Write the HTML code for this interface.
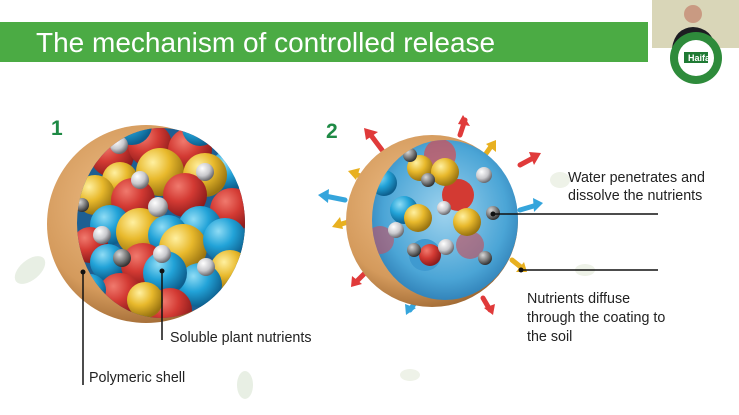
<!DOCTYPE html>
<html><head><meta charset="utf-8"><style>
body{margin:0;width:739px;height:415px;overflow:hidden;background:#fff;font-family:"Liberation Sans",sans-serif;}
svg{position:absolute;left:0;top:0}
</style></head><body>
<svg width="739" height="415" viewBox="0 0 739 415">
<defs>
<radialGradient id="r" cx="35%" cy="30%" r="70%"><stop offset="0" stop-color="#f07a6e"/><stop offset=".5" stop-color="#d33a33"/><stop offset="1" stop-color="#8e1c1c"/></radialGradient>
<radialGradient id="b" cx="35%" cy="30%" r="70%"><stop offset="0" stop-color="#8fdcf5"/><stop offset=".5" stop-color="#22a3d8"/><stop offset="1" stop-color="#0d5f8e"/></radialGradient>
<radialGradient id="y" cx="35%" cy="30%" r="70%"><stop offset="0" stop-color="#fff0a0"/><stop offset=".5" stop-color="#e8b92c"/><stop offset="1" stop-color="#9a7410"/></radialGradient>
<radialGradient id="w" cx="35%" cy="30%" r="70%"><stop offset="0" stop-color="#fff"/><stop offset=".6" stop-color="#c8c8cc"/><stop offset="1" stop-color="#6b6b70"/></radialGradient>
<radialGradient id="g" cx="35%" cy="30%" r="70%"><stop offset="0" stop-color="#d8d8d8"/><stop offset=".6" stop-color="#777"/><stop offset="1" stop-color="#333"/></radialGradient>
<radialGradient id="shell" cx="40%" cy="40%" r="65%"><stop offset="0" stop-color="#f0c089"/><stop offset=".7" stop-color="#d49a5c"/><stop offset="1" stop-color="#9b6530"/></radialGradient>
<radialGradient id="water" cx="50%" cy="45%" r="60%"><stop offset="0" stop-color="#9fd3ee"/><stop offset=".7" stop-color="#4ba5d6"/><stop offset="1" stop-color="#2a78b0"/></radialGradient>
<clipPath id="c1"><ellipse cx="161" cy="223" rx="84" ry="95"/></clipPath>
<clipPath id="c2"><ellipse cx="445" cy="220" rx="73" ry="80"/></clipPath>
</defs>
<!-- banner -->
<rect x="0" y="22" width="648" height="40" fill="#4bab44"/>
<text x="36" y="52" font-size="28" fill="#fff" font-family="Liberation Sans, sans-serif">The mechanism of controlled release</text>
<!-- webcam -->
<rect x="652" y="0" width="87" height="48" fill="#d9d6b8"/>
<circle cx="693" cy="14" r="9" fill="#c99a82"/>
<path d="M672 48 Q675 28 693 27 Q712 28 716 48Z" fill="#1d1d22"/>
<circle cx="696" cy="58" r="26" fill="#2e8b3b"/>
<circle cx="696" cy="58" r="18" fill="#fff"/>
<rect x="684" y="52" width="24" height="11" fill="#1f7a34"/>
<text x="688" y="61" font-size="9" fill="#fff" font-weight="bold">Haifa</text>
<!-- faint leaves -->
<ellipse cx="30" cy="270" rx="18" ry="10" fill="#e8efe4" transform="rotate(-40 30 270)"/>
<ellipse cx="245" cy="385" rx="8" ry="14" fill="#e8efe4"/>
<ellipse cx="410" cy="375" rx="10" ry="6" fill="#eef2e8"/>
<ellipse cx="585" cy="270" rx="10" ry="6" fill="#eef2e8"/>
<ellipse cx="560" cy="180" rx="10" ry="8" fill="#eef2e8"/>
<!-- sphere 1 -->
<circle cx="146" cy="224" r="99" fill="url(#shell)"/>
<ellipse cx="161" cy="223" rx="84" ry="95" fill="#1e5f92"/>
<g clip-path="url(#c1)">
<circle cx="112" cy="155" r="22" fill="url(#r)"/><circle cx="150" cy="145" r="22" fill="url(#r)"/><circle cx="190" cy="150" r="22" fill="url(#r)"/>
<circle cx="230" cy="170" r="20" fill="url(#b)"/><circle cx="132" cy="125" r="20" fill="url(#b)"/><circle cx="200" cy="128" r="18" fill="url(#b)"/>
<circle cx="160" cy="172" r="24" fill="url(#y)"/><circle cx="205" cy="175" r="22" fill="url(#y)"/><circle cx="120" cy="180" r="18" fill="url(#y)"/>
<circle cx="95" cy="195" r="20" fill="url(#y)"/><circle cx="185" cy="195" r="22" fill="url(#r)"/><circle cx="133" cy="200" r="22" fill="url(#r)"/>
<circle cx="232" cy="210" r="22" fill="url(#r)"/><circle cx="200" cy="228" r="22" fill="url(#b)"/><circle cx="110" cy="225" r="20" fill="url(#b)"/>
<circle cx="140" cy="232" r="24" fill="url(#y)"/><circle cx="90" cy="245" r="18" fill="url(#r)"/><circle cx="168" cy="235" r="20" fill="url(#b)"/>
<circle cx="183" cy="248" r="24" fill="url(#y)"/><circle cx="225" cy="240" r="22" fill="url(#b)"/><circle cx="230" cy="270" r="20" fill="url(#y)"/>
<circle cx="108" cy="262" r="18" fill="url(#b)"/><circle cx="143" cy="265" r="22" fill="url(#r)"/><circle cx="200" cy="285" r="22" fill="url(#b)"/>
<circle cx="165" cy="273" r="22" fill="url(#b)"/><circle cx="120" cy="295" r="22" fill="url(#r)"/><circle cx="170" cy="310" r="22" fill="url(#r)"/>
<circle cx="145" cy="300" r="18" fill="url(#y)"/><circle cx="90" cy="290" r="16" fill="url(#b)"/>
<circle cx="119" cy="145" r="9" fill="url(#w)"/><circle cx="140" cy="180" r="9" fill="url(#w)"/><circle cx="205" cy="172" r="9" fill="url(#w)"/>
<circle cx="158" cy="207" r="10" fill="url(#w)"/><circle cx="102" cy="235" r="9" fill="url(#w)"/><circle cx="122" cy="258" r="9" fill="url(#g)"/>
<circle cx="162" cy="254" r="9" fill="url(#w)"/><circle cx="206" cy="267" r="9" fill="url(#w)"/><circle cx="82" cy="205" r="7" fill="url(#g)"/>
</g>
<!-- sphere 2 arrows -->
<g stroke-width="5" fill="none" stroke-linecap="round">
<path d="M382 150 L370 134" stroke="#e03a3a"/><path d="M460 135 L465 120" stroke="#e03a3a"/><path d="M520 165 L535 157" stroke="#e03a3a"/>
<path d="M485 155 L492 145" stroke="#e8b020"/><path d="M370 180 L355 174" stroke="#e8b020"/><path d="M355 220 L338 225" stroke="#e8b020"/>
<path d="M345 200 L325 196" stroke="#35a5dc"/><path d="M520 210 L537 205" stroke="#35a5dc"/><path d="M512 260 L522 268" stroke="#e8b020"/>
<path d="M368 270 L356 282" stroke="#e03a3a"/><path d="M418 298 L410 310" stroke="#35a5dc"/><path d="M483 298 L490 310" stroke="#e03a3a"/>
</g>
<g>
<polygon points="364,128 378,132 366,140" fill="#e03a3a"/><polygon points="463,115 470,126 458,124" fill="#e03a3a"/><polygon points="541,153 534,165 529,152" fill="#e03a3a"/>
<polygon points="496,140 496,152 486,144" fill="#e8b020"/><polygon points="348,171 360,168 356,180" fill="#e8b020"/><polygon points="332,227 340,217 343,229" fill="#e8b020"/>
<polygon points="318,195 329,189 328,203" fill="#35a5dc"/><polygon points="543,203 533,198 534,212" fill="#35a5dc"/><polygon points="527,272 516,272 524,262" fill="#e8b020"/>
<polygon points="351,287 352,276 362,284" fill="#e03a3a"/><polygon points="406,315 405,304 416,308" fill="#35a5dc"/><polygon points="493,315 484,308 495,304" fill="#e03a3a"/>
</g>
<!-- sphere 2 -->
<circle cx="432" cy="221" r="86" fill="url(#shell)"/>
<ellipse cx="445" cy="220" rx="73" ry="80" fill="url(#water)"/>
<g clip-path="url(#c2)">
<circle cx="440" cy="155" r="16" fill="#d84a50" opacity=".7"/><circle cx="458" cy="195" r="16" fill="#d33a33"/>
<circle cx="380" cy="240" r="14" fill="#c85060" opacity=".6"/><circle cx="425" cy="255" r="16" fill="#3f9ad0"/><circle cx="470" cy="245" r="14" fill="#c84a55" opacity=".6"/>
<circle cx="384" cy="183" r="13" fill="url(#b)"/><circle cx="404" cy="210" r="14" fill="url(#b)"/>
<circle cx="420" cy="168" r="13" fill="url(#y)"/><circle cx="445" cy="172" r="14" fill="url(#y)"/>
<circle cx="418" cy="218" r="14" fill="url(#y)"/><circle cx="467" cy="222" r="14" fill="url(#y)"/><circle cx="430" cy="255" r="11" fill="url(#r)"/>
<circle cx="410" cy="155" r="7" fill="url(#g)"/><circle cx="484" cy="175" r="8" fill="url(#w)"/><circle cx="428" cy="180" r="7" fill="url(#g)"/>
<circle cx="444" cy="208" r="7" fill="url(#w)"/><circle cx="396" cy="230" r="8" fill="url(#w)"/><circle cx="493" cy="213" r="7" fill="url(#g)"/>
<circle cx="414" cy="250" r="7" fill="url(#g)"/><circle cx="446" cy="247" r="8" fill="url(#w)"/><circle cx="485" cy="258" r="7" fill="url(#g)"/>
</g>
<!-- labels -->
<text x="51" y="135" font-size="21" font-weight="bold" fill="#1e8a45">1</text>
<text x="326" y="138" font-size="21" font-weight="bold" fill="#1e8a45">2</text>
<g stroke="#111" stroke-width="1.5">
<line x1="83" y1="272" x2="83" y2="385"/><line x1="162" y1="271" x2="162" y2="340"/>
<line x1="493" y1="214" x2="658" y2="214"/><line x1="521" y1="270" x2="658" y2="270"/>
</g>
<circle cx="83" cy="272" r="2.5" fill="#111"/><circle cx="162" cy="271" r="2.5" fill="#111"/>
<circle cx="493" cy="214" r="2.5" fill="#111"/><circle cx="521" cy="270" r="2.5" fill="#111"/>
<g font-size="14.3" fill="#222">
<text x="170" y="342">Soluble plant nutrients</text>
<text x="89" y="382">Polymeric shell</text>
<text x="568" y="182">Water penetrates and</text>
<text x="568" y="200">dissolve the nutrients</text>
<text x="527" y="303">Nutrients diffuse</text>
<text x="527" y="322">through the coating to</text>
<text x="527" y="341">the soil</text>
</g>
</svg>
</body></html>
